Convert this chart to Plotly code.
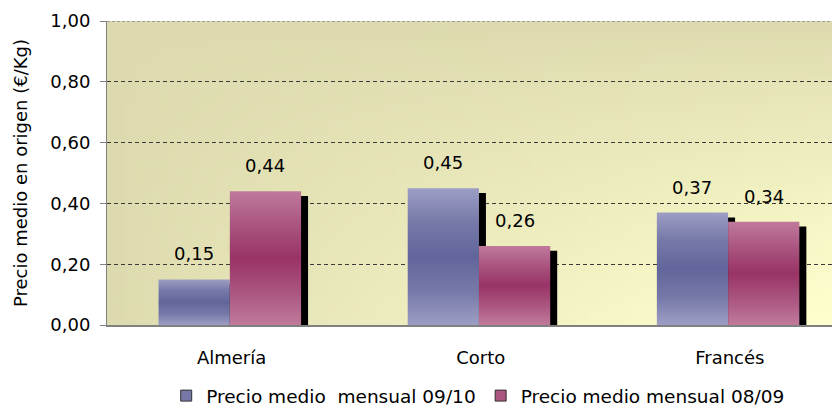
import base64
import struct
import zlib

import plotly.graph_objects as go

# data
categories = ["Almería", "Corto", "Francés"]
precio_0910 = [0.15, 0.45, 0.37]
precio_0809 = [0.44, 0.26, 0.34]
series_names = ["Precio medio  mensual 09/10", "Precio medio mensual 08/09"]
y_ticks = [0.0, 0.2, 0.4, 0.6, 0.8, 1.0]

FONT = "DejaVu Sans, Arial, sans-serif"
FS = 18
BAR_W = 0.286
SHADOW_DX = 0.028
SHADOW_DY = 0.016


def gradient_png(w, h, c0, c1):
    # plot-area background: olive in the top-left fading to pale yellow bottom-right
    rows = []
    for j in range(h):
        v = j / (h - 1)
        row = bytearray(b"\x00")
        for i in range(w):
            u = i / (w - 1)
            t = (u * v) ** 0.75
            row += bytes(round(a + (b - a) * t) for a, b in zip(c0, c1))
        rows.append(bytes(row))
    raw = b"".join(rows)

    def chunk(tag, data):
        return (struct.pack(">I", len(data)) + tag + data
                + struct.pack(">I", zlib.crc32(tag + data) & 0xFFFFFFFF))

    png = (b"\x89PNG\r\n\x1a\n"
           + chunk(b"IHDR", struct.pack(">IIBBBBB", w, h, 8, 2, 0, 0, 0))
           + chunk(b"IDAT", zlib.compress(raw))
           + chunk(b"IEND", b""))
    return "data:image/png;base64," + base64.b64encode(png).decode()


series = [
    (precio_0910, -0.293, ["#9c9ec4", "#7679a8", "#62659a", "#7679a8", "#9c9ec4"]),
    (precio_0809, -0.007, ["#c07a9b", "#aa5580", "#993366", "#aa5580", "#c07a9b"]),
]

fig = go.Figure()

# shadows (black, shifted right and slightly down)
for values, off, _ in series:
    fig.add_trace(go.Bar(
        x=list(range(len(categories))),
        y=[v - SHADOW_DY for v in values],
        width=BAR_W, offset=off + SHADOW_DX,
        marker=dict(color="black", line=dict(width=0)),
        showlegend=False, hoverinfo="skip",
    ))

# gradient bars
for (values, off, cols), name in zip(series, series_names):
    scale = [[k / (len(cols) - 1), c] for k, c in enumerate(cols)]
    for i, v in enumerate(values):
        x0, x1 = i + off, i + off + BAR_W
        fig.add_trace(go.Scatter(
            x=[x0, x0, x1, x1, x0], y=[0, v, v, 0, 0],
            mode="lines", fill="toself",
            fillgradient=dict(type="vertical", colorscale=scale),
            line=dict(width=0),
            name=name, legendgroup=name, showlegend=False,
            hovertemplate=f"{categories[i]}<br>{name}: {v:.2f}<extra></extra>",
        ))
        fig.add_annotation(
            x=(x0 + x1) / 2, y=v, text=f"{v:.2f}".replace(".", ","),
            showarrow=False, yanchor="bottom", yshift=13,
            font=dict(family=FONT, size=FS, color="black"),
        )
    # small square legend key
    fig.add_trace(go.Scatter(
        x=[None], y=[None], mode="markers", name=name, legendgroup=name,
        marker=dict(symbol="square", size=11, color=cols[1], line=dict(color="#333333", width=1)),
    ))

fig.add_layout_image(
    source=gradient_png(64, 32, (220, 218, 174), (255, 255, 206)),
    xref="paper", yref="paper", x=0, y=1, sizex=1, sizey=1,
    xanchor="left", yanchor="top", sizing="stretch", layer="below",
)

# lighter dashed frame line at the top of the plot area
fig.add_hline(y=1, line=dict(color="#8a8a8a", width=1.5, dash="3px,2px"), layer="above")

fig.update_layout(
    width=824, height=403,
    margin=dict(l=99, r=0, t=13, b=86),
    paper_bgcolor="white", plot_bgcolor="#e8e6bd",
    separators=",.",
    font=dict(family=FONT, size=FS, color="black"),
    showlegend=True,
    legend=dict(orientation="h", x=0.512, xanchor="center",
                yref="container", y=0.037, yanchor="middle",
                font=dict(family=FONT, size=18.5), itemwidth=30, tracegroupgap=0),
    xaxis=dict(
        range=[-0.5, 2.41], tickvals=list(range(len(categories))), ticktext=categories,
        showgrid=False, zeroline=False, showline=True, linecolor="#808080", linewidth=2,
        ticks="outside", ticklen=15, tickcolor="rgba(0,0,0,0)",
        tickfont=dict(family=FONT, size=FS),
    ),
    yaxis=dict(
        range=[0, 1], tickvals=y_ticks, tickformat=".2f",
        showgrid=True, gridcolor="#3a3a3a", griddash="4px,3px", gridwidth=1,
        zeroline=False, showline=True, linecolor="#808080", linewidth=1,
        ticks="outside", ticklen=6, tickcolor="#808080", ticklabelstandoff=6,
        tickfont=dict(family=FONT, size=FS),
        title=dict(text="Precio medio en origen (€/Kg)", font=dict(family=FONT, size=FS), standoff=18),
    ),
)

fig.write_html("out.html")
